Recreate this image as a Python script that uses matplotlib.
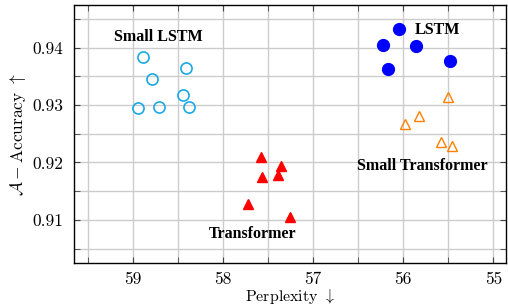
import numpy as np
import matplotlib
matplotlib.use("Agg")
import matplotlib.pyplot as plt
from matplotlib.ticker import MultipleLocator, FormatStrFormatter

plt.rcParams["mathtext.fontset"] = "cm"
plt.rcParams["axes.unicode_minus"] = False

# perplexity (x) and accuracy (y) per model run
small_lstm_ppl = [58.89, 58.41, 58.79, 58.44, 58.94, 58.71, 58.38]
small_lstm_acc = [0.9383, 0.9365, 0.9346, 0.9317, 0.9295, 0.9297, 0.9297]

lstm_ppl = [56.05, 56.22, 55.86, 55.48, 56.17]
lstm_acc = [0.9432, 0.9404, 0.9402, 0.9377, 0.9363]

small_tr_ppl = [55.50, 55.82, 55.98, 55.58, 55.46]
small_tr_acc = [0.9314, 0.9281, 0.9267, 0.9236, 0.9229]

tr_ppl = [57.575, 57.36, 57.56, 57.39, 57.72, 57.26]
tr_acc = [0.9210, 0.9193, 0.9175, 0.9179, 0.9128, 0.9105]

group_names = ["Small LSTM", "LSTM", "Small Transformer", "Transformer"]
label_x = [58.72, 55.62, 55.79, 57.67]
label_y = [0.9419, 0.9431, 0.9194, 0.9076]

fig = plt.figure(figsize=(5.08, 3.06), dpi=100)
ax = fig.add_axes([0.1457, 0.1405, 0.8503, 0.8432])

ax.plot(small_lstm_ppl, small_lstm_acc, "o", ms=8, mfc="none", mec="#1aa9e6", mew=1.2)
ax.plot(lstm_ppl, lstm_acc, "o", ms=8.5, color="#0000ff")
ax.plot(small_tr_ppl, small_tr_acc, "^", ms=7, mfc="none", mec="#ff8000", mew=1.0)
ax.plot(tr_ppl, tr_acc, "^", ms=7, color="#ff0000")

for name, lx, ly in zip(group_names, label_x, label_y):
    ax.text(lx, ly, name, ha="center", va="center", fontsize=11.5,
            fontweight="bold", family="Liberation Serif")

ax.set_xlim(59.65, 54.86)
ax.set_ylim(0.9025, 0.9474)
ax.xaxis.set_major_locator(MultipleLocator(1))
ax.xaxis.set_minor_locator(MultipleLocator(0.5))
ax.yaxis.set_major_locator(MultipleLocator(0.01))
ax.yaxis.set_minor_locator(MultipleLocator(0.005))
ax.xaxis.set_major_formatter(FormatStrFormatter("%d"))
ax.yaxis.set_major_formatter(FormatStrFormatter("%.2f"))

ax.grid(which="both", color="#cccccc", lw=1.0)
ax.set_axisbelow(True)
ax.tick_params(which="both", direction="in", top=True, right=True,
               length=4, color="#444444", labelsize=12.5)
ax.tick_params(axis="x", pad=6)
ax.tick_params(axis="y", pad=8)
for lab in ax.get_xticklabels() + ax.get_yticklabels():
    lab.set_family("cmr10")
for s in ax.spines.values():
    s.set_linewidth(1.0)

ax.set_xlabel(r"Perplexity $\downarrow$", family="cmr10", fontsize=11.5, labelpad=0)
ax.set_ylabel(r"$\mathcal{A}-$Accuracy $\uparrow$", family="cmr10", fontsize=12.5, labelpad=3)

fig.savefig("out.png", dpi=100)
